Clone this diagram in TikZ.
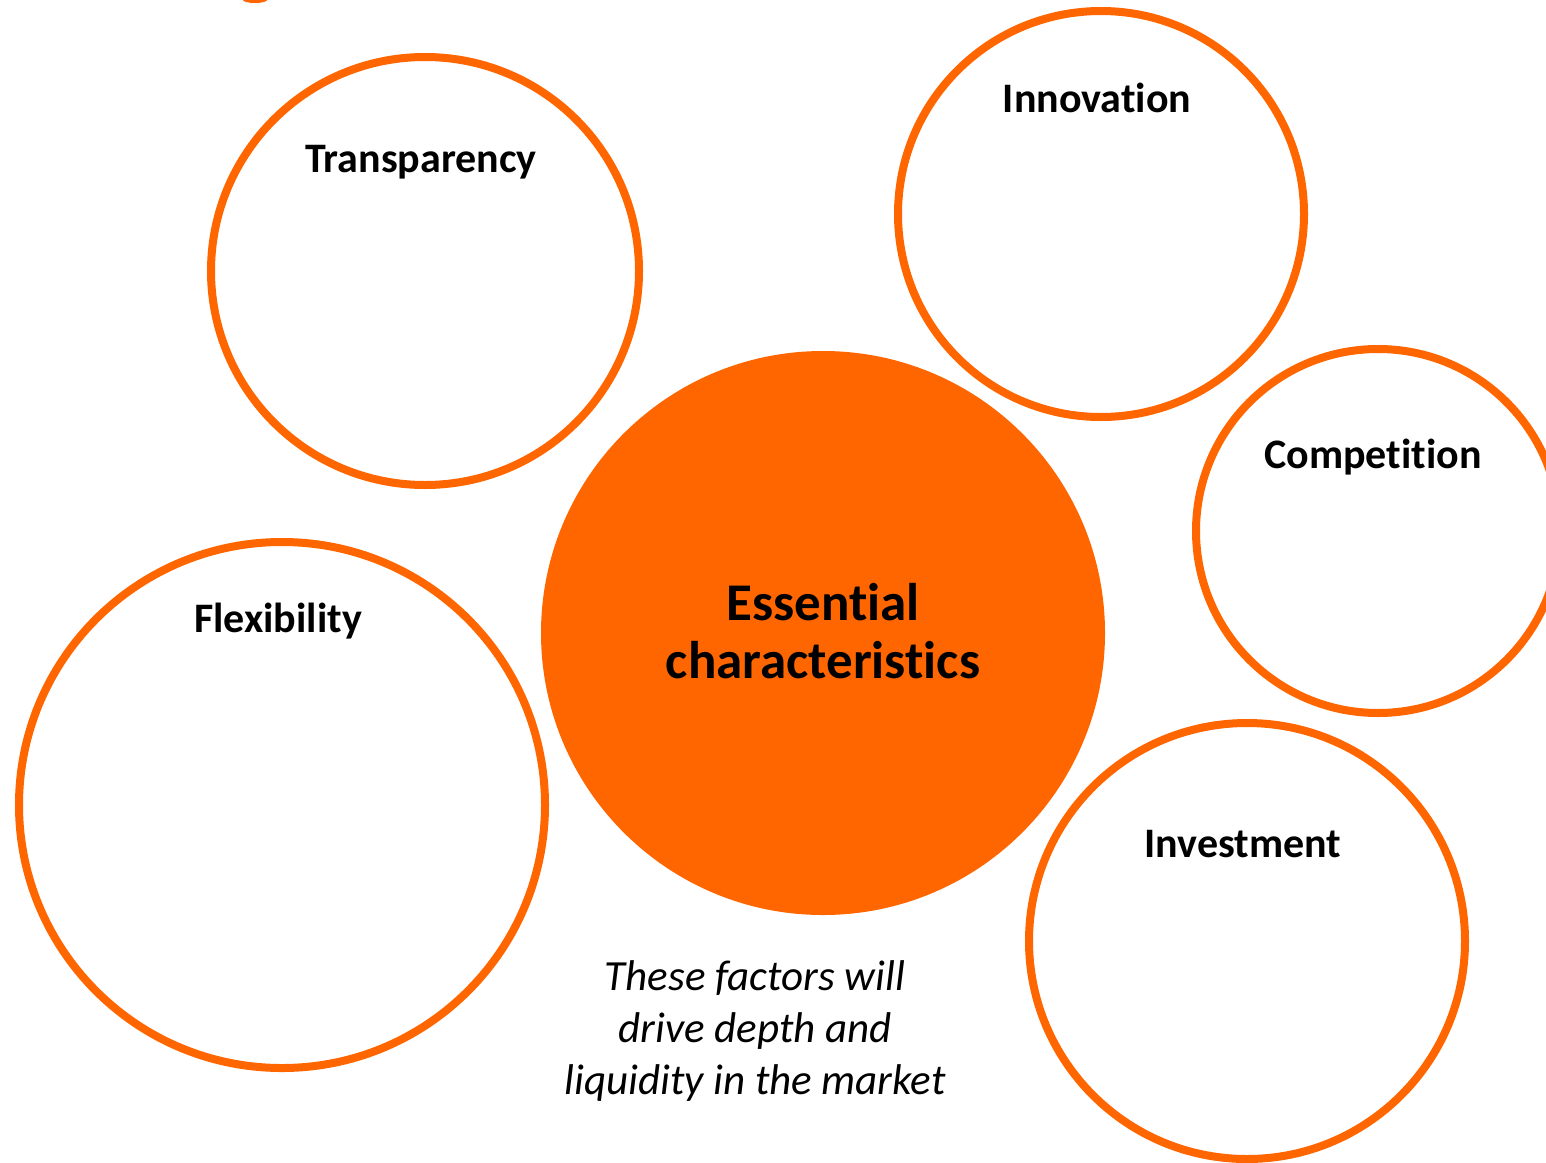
\documentclass[tikz,border=0pt]{standalone}
\usepackage{fontspec}
\setmainfont{Carlito}[Ligatures=NoCommon]
\definecolor{org}{HTML}{FF6600}
\begin{document}
\begin{tikzpicture}[x=1pt,y=-1pt,
  ring/.style={draw=org,line width=8pt,fill=white},
  lbl/.style={font=\fontsize{42}{46}\selectfont\bfseries,text=black,anchor=center}]
\useasboundingbox (0,0) rectangle (1546,1162);
\begin{scope}
\clip (0,0) rectangle (1546,1162);
\fill[org] (255,0) ellipse [x radius=12, y radius=3];
\draw[ring] (425,271) circle [radius=214];
\draw[ring] (1101,214) circle [radius=203];
\draw[ring] (1378,531) circle [radius=182];
\draw[ring] (282,805) circle [radius=263];
\draw[ring] (1247,941) circle [radius=218];
\fill[org] (823,633) circle [radius=282];
\end{scope}
\node[lbl] (tr) at (421,162) {Transparency};
\node[lbl] (in) at (1097,98) {Innovation};
\node[lbl] (co) at (1373,457) {Competition};
\node[lbl] (fl) at (278,621) {Flexibility};
\node[lbl] (iv) at (1243,844) {Investment};
\node[font=\fontsize{53}{58}\selectfont\bfseries,align=center] (ec) at (823,631) {Essential\\characteristics};
\node[font=\fontsize{43}{52}\selectfont\itshape,align=center] (tx) at (755,1031) {These factors will\\drive depth and\\liquidity in the market};
\end{tikzpicture}
\end{document}
